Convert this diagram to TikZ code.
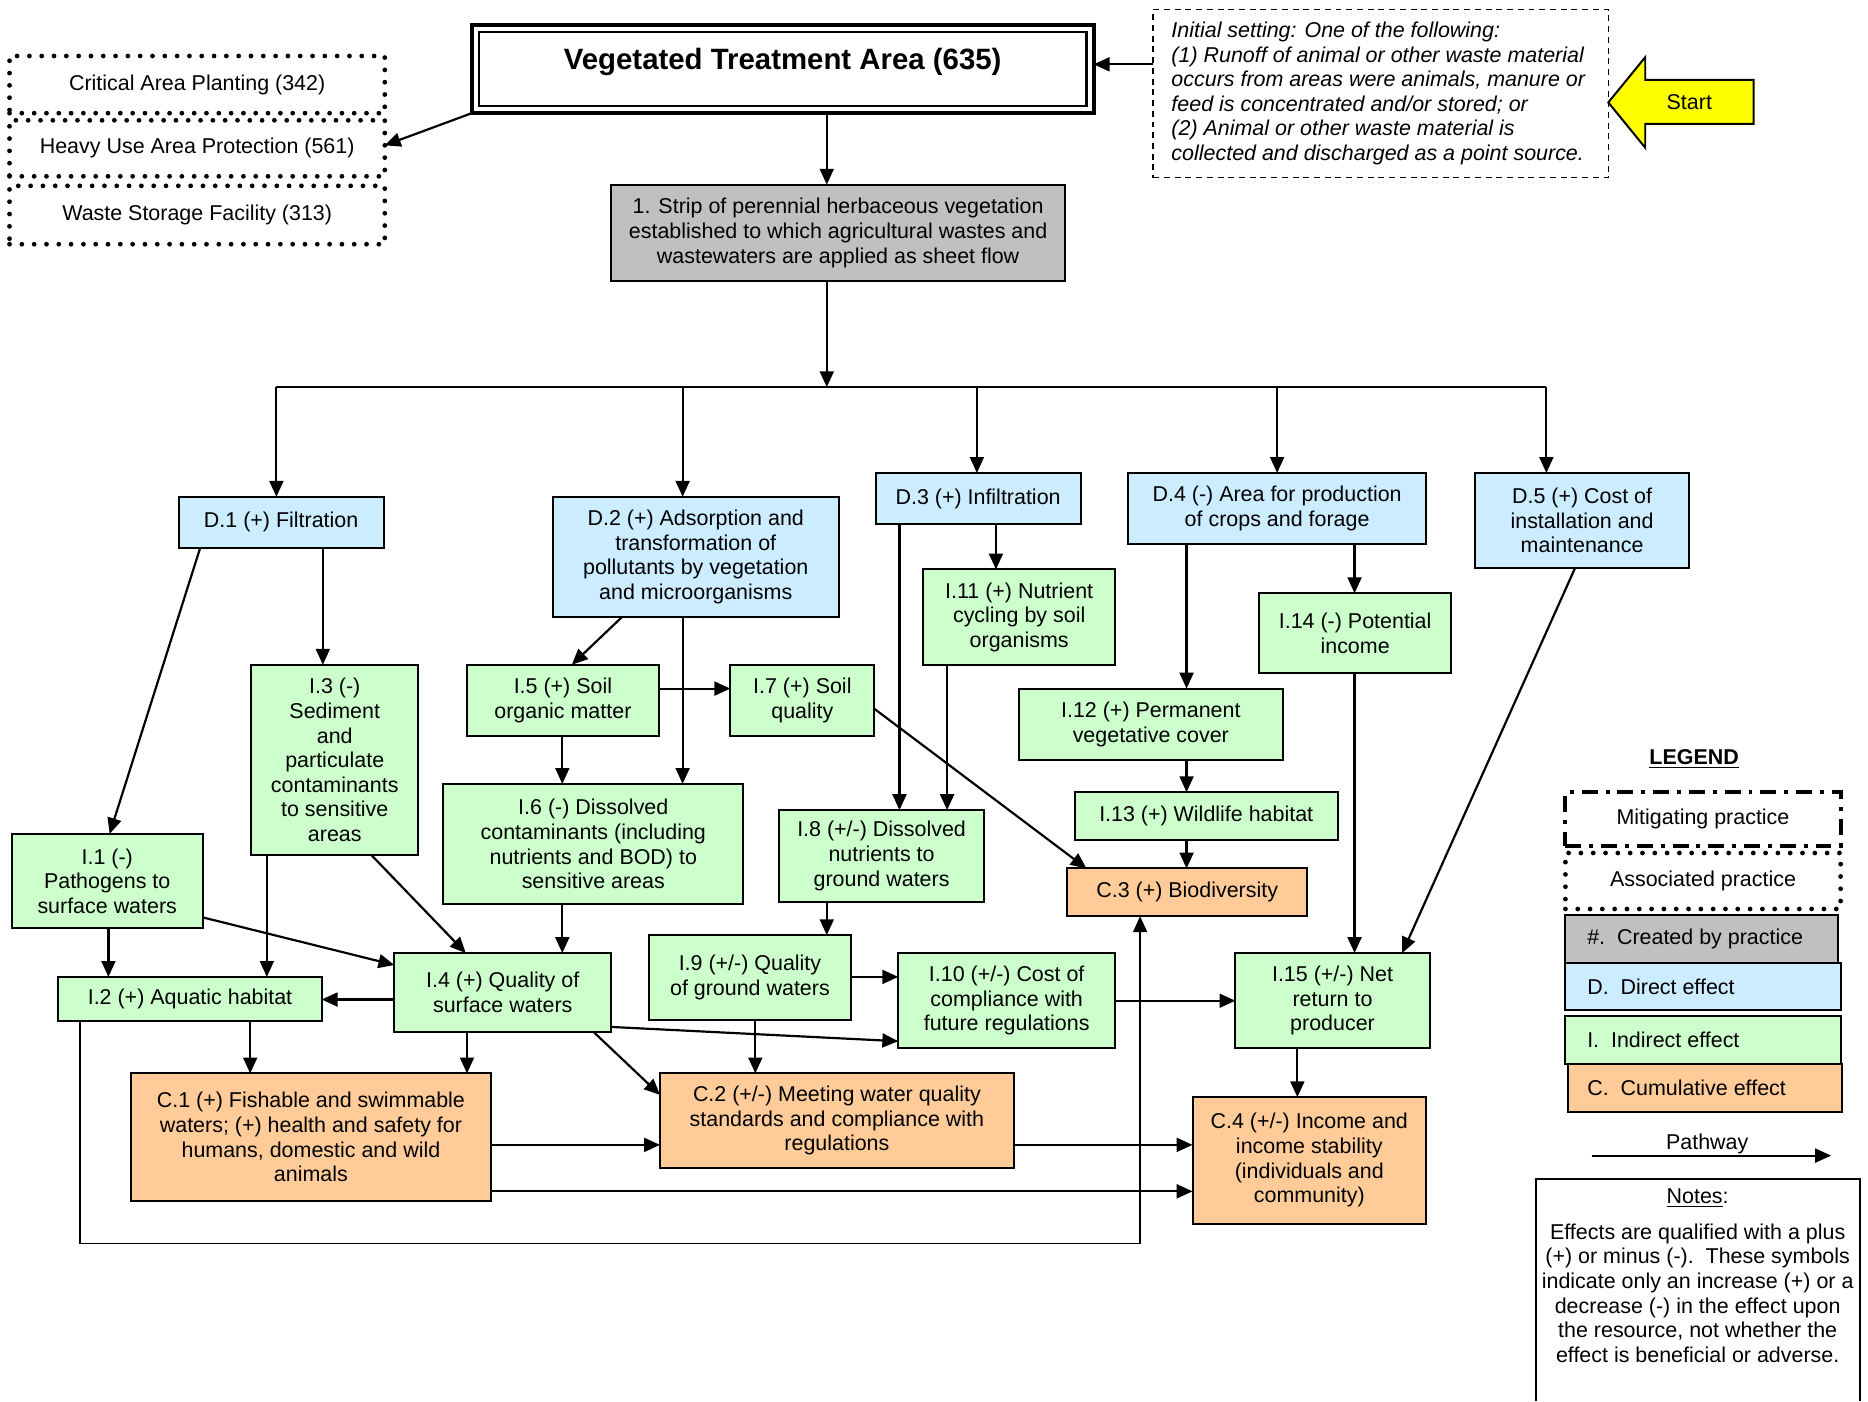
\documentclass[tikz,border=0pt]{standalone}
\usepackage{fontspec}
\setmainfont{Liberation Sans}
\usetikzlibrary{arrows.meta,calc}
\definecolor{dblue}{HTML}{CCECFF}
\definecolor{igreen}{HTML}{CCFFCC}
\definecolor{corange}{HTML}{FFCC99}
\definecolor{pgray}{HTML}{C0C0C0}
\definecolor{startyellow}{HTML}{FFFF00}
\begin{document}
\begin{tikzpicture}[x=0.6pt,y=-0.6pt,
  font=\fontsize{10.8}{12.4}\selectfont,
  corners/.style n args={4}{minimum width={(#3-#1)*0.6pt}, minimum height={(#4-#2)*0.6pt},
     at={({(#1+#3)/2},{(#2+#4)/2})}},
  box/.style={draw, line width=1pt, inner sep=0pt, outer sep=0pt, align=center},
  dbox/.style={box, fill=dblue},
  ibox/.style={box, fill=igreen},
  cbox/.style={box, fill=corange},
  pbox/.style={box, fill=pgray},
  assoc/.style={draw, line width=2.4pt, dash pattern=on 0pt off 6.2pt, line cap=round, inner sep=0pt, outer sep=0pt, align=center},
  mitig/.style={draw, line width=2pt, dash pattern=on 8pt off 4pt on 2pt off 4pt, inner sep=0pt, outer sep=0pt, align=center},
  ln/.style={line width=1.1pt},
  arr/.style={line width=1.1pt, -{Triangle[length=8pt,width=7pt]}},
  thinarr/.style={line width=0.7pt, -{Triangle[length=8pt,width=7pt]}},
  txt/.style={inner sep=0pt, align=center}
]
\useasboundingbox (0,0) rectangle (1568,1176);

% ---------- practice and setting ----------
\node[draw, line width=2pt, inner sep=0pt, outer sep=0pt, corners={396}{21}{918}{95}] (vta) {};
\draw[line width=1.2pt] ($(vta.north west)+(6,6)$) rectangle ($(vta.south east)+(-6,-6)$);
\node[txt, font=\bfseries\fontsize{14.8}{17}\selectfont] (vtatext) at (657,52) {Vegetated Treatment Area (635)};

\node[draw, line width=0.8pt, dash pattern=on 3pt off 2.4pt, inner sep=0pt, outer sep=0pt, corners={968}{8}{1350}{149}] (init) {};
\node[inner sep=0pt, anchor=west, align=left, font=\itshape\fontsize{10.8}{12.4}\selectfont] (inittext) at (983,78.5)
  {Initial setting: One of the following:\\(1) Runoff of animal or other waste material\\occurs from areas were animals, manure or\\feed is concentrated and/or stored; or\\(2) Animal or other waste material is\\collected and discharged as a point source.};

\draw[line width=1pt, fill=startyellow] (1350,86) -- (1381,48) -- (1381,67) -- (1472,67) -- (1472,104) -- (1381,104) -- (1381,124) -- cycle;
\node[txt] (start) at (1418,86) {Start};

\node[assoc, corners={8}{47}{323}{95}] (cap) {Critical Area Planting (342)};
\node[assoc, corners={8}{101}{323}{148}] (heavy) {Heavy Use Area Protection (561)};
\node[assoc, corners={8}{156}{323}{205}] (waste) {Waste Storage Facility (313)};

\node[pbox, corners={513}{155}{894}{236}] (strip) {1. Strip of perennial herbaceous vegetation\\established to which agricultural wastes and\\wastewaters are applied as sheet flow};

% ---------- direct effects ----------
\node[dbox, corners={150}{417}{322}{460}] (D1) {D.1 (+) Filtration};
\node[dbox, corners={464}{417}{704}{518}] (D2) {D.2 (+) Adsorption and\\transformation of\\pollutants by vegetation\\and microorganisms};
\node[dbox, corners={735}{397}{907}{440}] (D3) {D.3 (+) Infiltration};
\node[dbox, corners={947}{397}{1197}{457}] (D4) {D.4 (-) Area for production\\of crops and forage};
\node[dbox, corners={1238}{397}{1418}{477}] (D5) {D.5 (+) Cost of\\installation and\\maintenance};

% ---------- indirect effects ----------
\node[ibox, corners={10}{700}{170}{779}] (I1) {I.1 (-)\\Pathogens to\\surface waters};
\node[ibox, corners={49}{820}{270}{857}] (I2) {I.2 (+) Aquatic habitat};
\node[ibox, corners={211}{558}{351}{718}] (I3) {I.3 (-)\\Sediment\\and\\particulate\\contaminants\\to sensitive\\areas};
\node[ibox, corners={331}{800}{513}{866}] (I4) {I.4 (+) Quality of\\surface waters};
\node[ibox, corners={392}{558}{553}{618}] (I5) {I.5 (+) Soil\\organic matter};
\node[ibox, corners={372}{658}{624}{759}] (I6) {I.6 (-) Dissolved\\contaminants (including\\nutrients and BOD) to\\sensitive areas};
\node[ibox, corners={613}{558}{734}{618}] (I7) {I.7 (+) Soil\\quality};
\node[ibox, corners={654}{680}{826}{757}] (I8) {I.8 (+/-) Dissolved\\nutrients to\\ground waters};
\node[ibox, corners={545}{785}{714}{856}] (I9) {I.9 (+/-) Quality\\of ground waters};
\node[ibox, corners={754}{800}{936}{880}] (I10) {I.10 (+/-) Cost of\\compliance with\\future regulations};
\node[ibox, corners={775}{478}{936}{558}] (I11) {I.11 (+) Nutrient\\cycling by soil\\organisms};
\node[ibox, corners={855}{578}{1077}{638}] (I12) {I.12 (+) Permanent\\vegetative cover};
\node[ibox, corners={902}{665}{1123}{705}] (I13) {I.13 (+) Wildlife habitat};
\node[ibox, corners={1057}{498}{1218}{565}] (I14) {I.14 (-) Potential\\income};
\node[ibox, corners={1037}{800}{1200}{880}] (I15) {I.15 (+/-) Net\\return to\\producer};

% ---------- cumulative effects ----------
\node[cbox, corners={110}{901}{412}{1008}] (C1) {C.1 (+) Fishable and swimmable\\waters; (+) health and safety for\\humans, domestic and wild\\animals};
\node[cbox, corners={554}{901}{851}{980}] (C2) {C.2 (+/-) Meeting water quality\\standards and compliance with\\regulations};
\node[cbox, corners={896}{729}{1097}{769}] (C3) {C.3 (+) Biodiversity};
\node[cbox, corners={1001}{921}{1197}{1027}] (C4) {C.4 (+/-) Income and\\income stability\\(individuals and\\community)};

% ---------- connectors: top ----------
\draw[arr] (init.west |- 0,54) -- (vta.east |- 0,54);
\draw[arr] (vta.south west) -- (heavy.east |- 0,122);
\draw[arr] (vta.south -| 694,0) -- (strip.north -| 694,0);
\coordinate (bus) at (694,325);
\draw[arr] (strip.south -| 694,0) -- (bus);
\draw[ln] (bus -| 232,0) -- (bus -| 1298,0);
\draw[arr] (bus -| 232,0) -- (D1.north -| 232,0);
\draw[arr] (bus -| 573,0) -- (D2.north -| 573,0);
\draw[arr] (bus -| 820,0) -- (D3.north -| 820,0);
\draw[arr] (bus -| 1072,0) -- (D4.north -| 1072,0);
\draw[arr] (bus -| 1298,0) -- (D5.north -| 1298,0);

% ---------- connectors: direct to indirect ----------
\draw[arr] (D1.south -| 168,0) -- (I1.north -| 92,0);
\draw[arr] (D1.south -| 271,0) -- (I3.north -| 271,0);
\draw[arr] (D2.south -| 522,0) -- (I5.north -| 480,0);
\draw[arr] (D2.south -| 573,0) -- (I6.north -| 573,0);
\draw[arr] (D3.south -| 755,0) -- (I8.north -| 755,0);
\draw[arr] (D3.south -| 836,0) -- (I11.north -| 836,0);
\draw[arr] (D4.south -| 996,0) -- (I12.north -| 996,0);
\draw[arr] (D4.south -| 1137,0) -- (I14.north -| 1137,0);
\draw[arr] (D5.south -| 1322,0) -- (I15.north -| 1177,0);

% ---------- connectors: among indirect effects ----------
\draw[arr] (I5.east |- 0,578) -- (I7.west |- 0,578);
\draw[arr] (I5.south -| 472,0) -- (I6.north -| 472,0);
\draw[arr] (I7.east |- 0,595) -- (C3.north -| 912,0);
\draw[arr] (I11.south -| 795,0) -- (I8.north -| 795,0);
\draw[arr] (I8.south -| 694,0) -- (I9.north -| 694,0);
\draw[arr] (I12.south -| 996,0) -- (I13.north -| 996,0);
\draw[arr] (I13.south -| 996,0) -- (C3.north -| 996,0);
\draw[arr] (I14.south -| 1137,0) -- (I15.north -| 1137,0);
\draw[arr] (I15.south -| 1089,0) -- (C4.north -| 1089,0);
\draw[arr] (I10.east |- 0,840) -- (I15.west |- 0,840);
\draw[arr] (I9.east |- 0,820) -- (I10.west |- 0,820);
\draw[arr] (I9.south -| 634,0) -- (C2.north -| 634,0);
\draw[arr] (I4.east |- 0,862) -- (I10.west |- 0,874);
\draw[arr] (I4.south -| 498,0) -- (C2.west |- 0,919);
\draw[arr] (I4.west |- 0,839) -- (I2.east |- 0,839);
\draw[arr] (I4.south -| 392,0) -- (C1.north -| 392,0);
\draw[arr] (I1.east |- 0,770) -- (I4.west |- 0,810);
\draw[arr] (I1.south -| 91,0) -- (I2.north -| 91,0);
\draw[arr] (I3.south -| 224,0) -- (I2.north -| 224,0);
\draw[arr] (I3.south -| 312,0) -- (I4.north -| 391,0);
\draw[arr] (I6.south -| 472,0) -- (I4.north -| 472,0);
\draw[arr] (I2.south -| 210,0) -- (C1.north -| 210,0);
\draw[thinarr] (I2.south -| 67,0) -- ++(0,187) -| (C3.south -| 957,0);

% ---------- connectors: cumulative ----------
\draw[arr] (C1.east |- 0,961) -- (C2.west |- 0,961);
\draw[arr] (C1.east |- 0,1000) -- (C4.west |- 0,1000);
\draw[arr] (C2.east |- 0,961) -- (C4.west |- 0,961);

% ---------- legend ----------
\node[txt, font=\bfseries\fontsize{10.8}{12.4}\selectfont] (legtitle) at (1422,637) {\underline{LEGEND}};
\node[mitig, corners={1314}{665}{1545}{710}] (lgmit) {Mitigating practice};
\node[assoc, corners={1314}{716}{1545}{763}] (lgassoc) {Associated practice};
\node[pbox, corners={1314}{768}{1543}{808}] (lgcreated) {};
\node[dbox, corners={1314}{808}{1545}{848}] (lgdirect) {};
\node[ibox, corners={1314}{853}{1545}{893}] (lgindirect) {};
\node[cbox, corners={1316}{893}{1546}{933}] (lgcumul) {};
\node[txt, anchor=west] (lgcreatedt) at ($(lgcreated.west)+(18,0)$) {\#.\ \ Created by practice};
\node[txt, anchor=west] (lgdirectt) at ($(lgdirect.west)+(18,0)$) {D.\ \ Direct effect};
\node[txt, anchor=west] (lgindirectt) at ($(lgindirect.west)+(18,0)$) {I.\ \ Indirect effect};
\node[txt, anchor=west] (lgcumult) at ($(lgcumul.west)+(16,0)$) {C.\ \ Cumulative effect};

\coordinate (pwa) at (1336,970);
\coordinate (pwb) at (1537,970);
\draw[arr] (pwa) -- (pwb);
\node[txt] (pwtext) at (1433,960) {Pathway};

% ---------- notes ----------
\draw[line width=1pt] (1289,1176) -- (1289,990) coordinate (notesnw) -- (1561,990) -- (1561,1176);
\node[txt] (notestitle) at (1425,1006) {\underline{Notes}:};
\node[txt] (notes) at (1425,1085.5) {Effects are qualified with a plus\\(+) or minus (-).\ \ These symbols\\indicate only an increase (+) or a\\decrease (-) in the effect upon\\the resource, not whether the\\effect is beneficial or adverse.};
\end{tikzpicture}
\end{document}
